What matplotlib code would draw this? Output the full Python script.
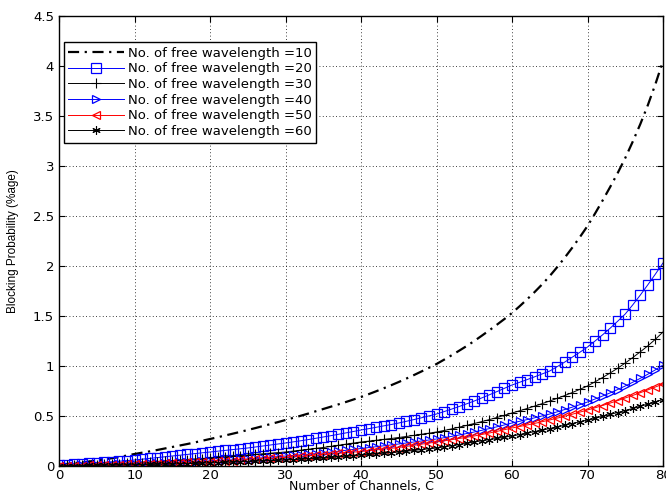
import numpy as np
import matplotlib
matplotlib.use("Agg")
import matplotlib.pyplot as plt

channels = list(range(0, 81))

w10 = [0.01, 0.02, 0.03, 0.035, 0.045, 0.055,
       0.067, 0.078, 0.09, 0.105, 0.12,
       0.133, 0.146, 0.16, 0.175, 0.19,
       0.205, 0.22, 0.236, 0.253, 0.27,
       0.287, 0.305, 0.323, 0.341, 0.36,
       0.379, 0.399, 0.419, 0.439, 0.46,
       0.481, 0.502, 0.524, 0.547, 0.57,
       0.593, 0.616, 0.64, 0.665, 0.69,
       0.718, 0.747, 0.777, 0.808, 0.84,
       0.874, 0.909, 0.945, 0.982, 1.02,
       1.063, 1.107, 1.153, 1.2, 1.25,
       1.303, 1.357, 1.413, 1.47, 1.53,
       1.597, 1.667, 1.74, 1.817, 1.9,
       1.99, 2.085, 2.185, 2.29, 2.4,
       2.525, 2.655, 2.79, 2.93, 3.08,
       3.245, 3.42, 3.61, 3.82, 4.05]

w20 = [0.01, 0.014, 0.018, 0.022, 0.026, 0.03,
       0.036, 0.042, 0.048, 0.054, 0.06,
       0.068, 0.076, 0.084, 0.092, 0.1,
       0.108, 0.116, 0.124, 0.132, 0.14,
       0.148, 0.156, 0.164, 0.172, 0.18,
       0.19, 0.2, 0.21, 0.22, 0.23,
       0.241, 0.252, 0.264, 0.277, 0.29,
       0.303, 0.317, 0.331, 0.345, 0.36,
       0.373, 0.387, 0.401, 0.415, 0.43,
       0.447, 0.464, 0.482, 0.501, 0.52,
       0.544, 0.569, 0.595, 0.622, 0.65,
       0.681, 0.712, 0.744, 0.777, 0.81,
       0.837, 0.864, 0.892, 0.921, 0.95,
       0.994, 1.04, 1.089, 1.138, 1.19,
       1.25, 1.312, 1.378, 1.448, 1.52,
       1.612, 1.71, 1.813, 1.92, 2.03]

w30 = [0.005, 0.007, 0.009, 0.011, 0.013, 0.015,
       0.018, 0.021, 0.024, 0.027, 0.03,
       0.035, 0.04, 0.045, 0.05, 0.055,
       0.06, 0.065, 0.07, 0.075, 0.08,
       0.086, 0.092, 0.098, 0.104, 0.11,
       0.116, 0.122, 0.128, 0.134, 0.14,
       0.149, 0.158, 0.167, 0.176, 0.185,
       0.196, 0.207, 0.218, 0.229, 0.24,
       0.248, 0.257, 0.266, 0.275, 0.285,
       0.295, 0.306, 0.317, 0.328, 0.34,
       0.355, 0.371, 0.388, 0.406, 0.425,
       0.444, 0.464, 0.485, 0.507, 0.53,
       0.552, 0.575, 0.599, 0.624, 0.65,
       0.677, 0.705, 0.735, 0.767, 0.8,
       0.842, 0.885, 0.93, 0.978, 1.03,
       1.085, 1.142, 1.202, 1.268, 1.34]

w40 = [0.003, 0.004, 0.005, 0.007, 0.008, 0.01,
       0.012, 0.014, 0.016, 0.018, 0.02,
       0.023, 0.026, 0.029, 0.032, 0.035,
       0.038, 0.041, 0.044, 0.047, 0.05,
       0.054, 0.058, 0.062, 0.066, 0.07,
       0.076, 0.082, 0.088, 0.094, 0.1,
       0.106, 0.112, 0.118, 0.124, 0.13,
       0.139, 0.148, 0.157, 0.166, 0.175,
       0.184, 0.193, 0.202, 0.211, 0.22,
       0.23, 0.24, 0.25, 0.26, 0.27,
       0.283, 0.296, 0.31, 0.325, 0.34,
       0.357, 0.374, 0.392, 0.411, 0.43,
       0.447, 0.464, 0.482, 0.501, 0.52,
       0.542, 0.565, 0.589, 0.614, 0.64,
       0.67, 0.7, 0.731, 0.765, 0.8,
       0.838, 0.877, 0.918, 0.962, 1.01]

w50 = [0.002, 0.003, 0.004, 0.005, 0.0065, 0.008,
       0.0098, 0.0116, 0.0134, 0.0152, 0.017,
       0.0196, 0.0222, 0.0248, 0.0274, 0.03,
       0.033, 0.036, 0.039, 0.042, 0.045,
       0.048, 0.052, 0.055, 0.059, 0.062,
       0.067, 0.071, 0.076, 0.08, 0.085,
       0.091, 0.097, 0.103, 0.109, 0.115,
       0.121, 0.127, 0.133, 0.139, 0.145,
       0.153, 0.161, 0.169, 0.177, 0.185,
       0.196, 0.207, 0.218, 0.229, 0.24,
       0.251, 0.263, 0.275, 0.287, 0.3,
       0.315, 0.33, 0.346, 0.363, 0.38,
       0.395, 0.41, 0.426, 0.443, 0.46,
       0.479, 0.498, 0.518, 0.539, 0.56,
       0.582, 0.605, 0.629, 0.654, 0.68,
       0.706, 0.733, 0.761, 0.79, 0.82]

w60 = [0.002, 0.0028, 0.0036, 0.0044, 0.0052, 0.006,
       0.0072, 0.0084, 0.0096, 0.0108, 0.012,
       0.0136, 0.0152, 0.0168, 0.0184, 0.02,
       0.022, 0.024, 0.026, 0.028, 0.03,
       0.033, 0.036, 0.039, 0.042, 0.045,
       0.048, 0.051, 0.054, 0.057, 0.06,
       0.064, 0.068, 0.072, 0.076, 0.08,
       0.086, 0.092, 0.098, 0.104, 0.11,
       0.116, 0.122, 0.128, 0.134, 0.14,
       0.148, 0.156, 0.164, 0.172, 0.18,
       0.191, 0.202, 0.214, 0.227, 0.24,
       0.252, 0.264, 0.276, 0.288, 0.3,
       0.314, 0.329, 0.344, 0.359, 0.375,
       0.391, 0.408, 0.425, 0.442, 0.46,
       0.478, 0.497, 0.516, 0.535, 0.555,
       0.576, 0.597, 0.619, 0.642, 0.665]

labels = ["No. of free wavelength =10", "No. of free wavelength =20",
          "No. of free wavelength =30", "No. of free wavelength =40",
          "No. of free wavelength =50", "No. of free wavelength =60"]
xticks = [0, 10, 20, 30, 40, 50, 60, 70, 80]
yticks = [0, 0.5, 1, 1.5, 2, 2.5, 3, 3.5, 4, 4.5]

plt.rcParams['font.family'] = ['DejaVu Sans']

fig = plt.figure(figsize=(6.66, 4.95), dpi=100)
ax = fig.add_axes([59/666, 29/495, 604/666, 450/495])

x = np.array(channels)
ax.plot(x, w10, color='black', linestyle='-.', linewidth=1.6, label=labels[0],
        dashes=(5, 2.5, 1, 2.5))
ax.plot(x, w20, color='blue', linewidth=0.7, marker='s', markersize=6.5,
        markerfacecolor='none', markeredgewidth=0.9, label=labels[1])
ax.plot(x, w30, color='black', linewidth=0.7, marker='+', markersize=7,
        markeredgewidth=0.8, label=labels[2])
ax.plot(x, w40, color='blue', linewidth=0.7, marker='>', markersize=6,
        markerfacecolor='none', markeredgewidth=0.9, label=labels[3])
ax.plot(x, w50, color='red', linewidth=0.7, marker='<', markersize=6,
        markerfacecolor='none', markeredgewidth=0.9, label=labels[4])
ax.plot(x, w60, color='black', linewidth=0.7, marker=(6, 2, 0), markersize=6,
        markeredgewidth=0.8, label=labels[5])

ax.set_xlim(0, 80)
ax.set_ylim(0, 4.5)
ax.set_xticks(xticks)
ax.set_yticks(yticks)
ax.set_yticklabels(['0', '0.5', '1', '1.5', '2', '2.5', '3', '3.5', '4', '4.5'])
ax.tick_params(direction='in', top=True, right=True, labelsize=9.5,
               length=4, width=0.8, colors='black')
ax.tick_params(axis='x', pad=2)
ax.grid(True, linestyle=(0, (1, 3)), color='black', linewidth=0.6)
for s in ax.spines.values():
    s.set_linewidth(1.0)
    s.set_color('black')

ax.set_xlabel("Number of Channels, C", fontsize=9, labelpad=-1)
ax.set_ylabel("Blocking Probability (%age)", fontsize=8.5,
              family=['Liberation Sans'], labelpad=10)

leg = ax.legend(loc='upper left', bbox_to_anchor=(0.008, 0.942), fontsize=9.5,
                frameon=True, fancybox=False, framealpha=1, edgecolor='black',
                handlelength=4.2, labelspacing=0.2, borderpad=0.35,
                handletextpad=0.3, borderaxespad=0)
leg.get_frame().set_linewidth(1.0)

fig.savefig("out.png", dpi=100)
